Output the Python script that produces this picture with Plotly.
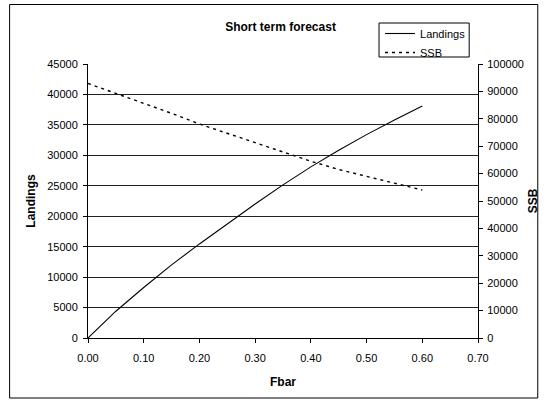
import plotly.graph_objects as go

fbar = [0.00, 0.05, 0.10, 0.15, 0.20, 0.25, 0.30, 0.35, 0.40, 0.45, 0.50, 0.55, 0.60]
landings = [0, 4400, 8300, 12000, 15450, 18800, 22000, 25150, 28100, 30850, 33400, 35800, 38100]
ssb = [92900, 89300, 85700, 82000, 78100, 74700, 71200, 67700, 64500, 61500, 58900, 56500, 54000]
x_ticks = [0, 0.1, 0.2, 0.3, 0.4, 0.5, 0.6, 0.7]

W, H = 549, 403
L, R, T, B = 88, 63, 64, 65
FONT = "Liberation Sans, Arial, sans-serif"

pw = W - L - R
ph = H - T - B
def px_x(px):
    return (px - L) / pw
def px_y(py):
    return (H - B - py) / ph

fig = go.Figure()
fig.add_trace(go.Scatter(x=fbar, y=landings, name="Landings", mode="lines",
                         line=dict(color="black", width=1.1), yaxis="y"))
fig.add_trace(go.Scatter(x=fbar, y=ssb, name="SSB", mode="lines",
                         line=dict(color="black", width=1.4, dash="3px,4px"), yaxis="y2"))

fig.update_layout(
    width=W, height=H,
    margin=dict(l=L, r=R, t=T, b=B, pad=0),
    paper_bgcolor="white", plot_bgcolor="white",
    font=dict(family=FONT, size=11, color="black"),
    title=dict(text="<b>Short term forecast</b>", font=dict(size=12, family=FONT),
               x=px_x(284.5), xref="paper", xanchor="center",
               y=1 - 27 / H, yanchor="middle"),
    xaxis=dict(range=[0, 0.7], tickvals=x_ticks,
               tickformat=".2f", showgrid=False, zeroline=False,
               showline=True, linecolor="black", linewidth=1,
               ticks="outside", ticklen=4, tickcolor="black", ticklabelstandoff=6,
               title=dict(text="<b>Fbar</b>", font=dict(size=12), standoff=14)),
    yaxis=dict(range=[0, 45000], dtick=5000, tickformat="d",
               showgrid=True, gridcolor="#222222", gridwidth=1, zeroline=False,
               showline=True, linecolor="black", linewidth=1,
               ticks="outside", ticklen=4, tickcolor="black", ticklabelstandoff=3,
               title=dict(text="<b>Landings</b>", font=dict(size=12), standoff=9)),
    yaxis2=dict(range=[0, 100000], dtick=10000, tickformat="d", overlaying="y", side="right",
                showgrid=False, zeroline=False,
                showline=True, linecolor="black", linewidth=1,
                ticks="outside", ticklen=4, tickcolor="black", ticklabelstandoff=2,
                title=dict(text="<b>SSB</b>", font=dict(size=12), standoff=5)),
    yaxis3=dict(range=[0, 100000], dtick=10000, overlaying="y", side="right", anchor="x",
                showgrid=False, zeroline=False, showline=False, showticklabels=False,
                ticks="inside", ticklen=3, tickcolor="black"),
    legend=dict(x=px_x(386), y=px_y(19), xanchor="left", yanchor="top",
                borderwidth=0, bgcolor="rgba(0,0,0,0)",
                font=dict(size=11), itemwidth=30, tracegroupgap=0),
    showlegend=True,
)

# legend frame
fig.add_shape(type="rect", xref="paper", yref="paper",
              x0=px_x(385), x1=px_x(477), y0=px_y(57), y1=px_y(23),
              line=dict(color="black", width=1), fillcolor="rgba(0,0,0,0)", layer="above")
# chart frame
fig.add_shape(type="rect", xref="paper", yref="paper",
              x0=px_x(8), x1=px_x(547), y0=px_y(398), y1=px_y(4.5),
              line=dict(color="black", width=1), fillcolor="rgba(0,0,0,0)", layer="below")

fig.write_html("out.html", config={"displayModeBar": False},
               post_script="document.body.style.margin='0px';")
